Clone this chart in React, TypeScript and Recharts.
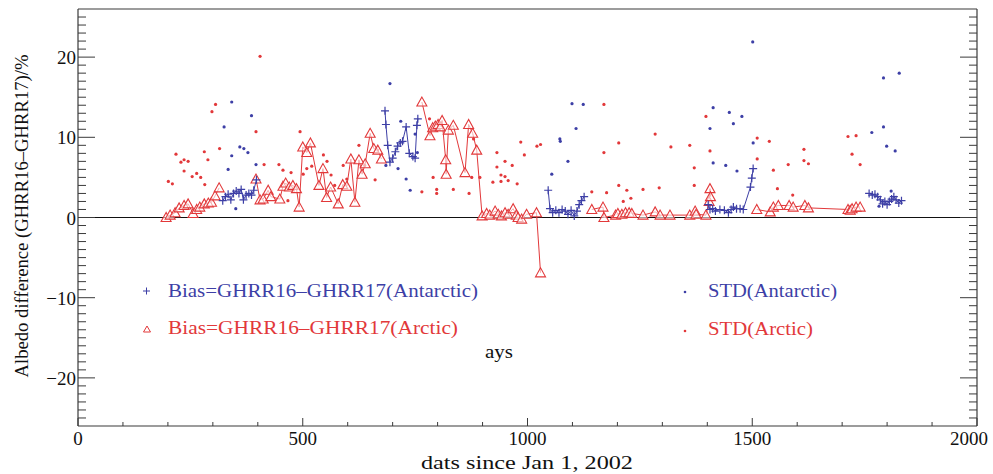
import React from "react";
import {
  ScatterChart,
  Scatter,
  XAxis,
  YAxis,
  ReferenceLine,
} from "recharts";

const BLUE = "#3d3fa6";
const RED = "#e2383a";
const AXIS = "#3a3a3a";
const FONT = "Liberation Serif";

// [day, value] pairs
const antarcticBiasA = [
  [322, 2.1], [328, 2.6], [334, 2.9], [340, 2.2], [346, 3.0], [352, 3.3], [358, 3.0],
  [363, 3.5], [368, 2.2], [374, 2.8], [380, 3.0], [386, 2.8], [391, 3.4], [397, 4.7],
];
const antarcticBiasB = [
  [683, 13.3], [685, 11.6], [689, 9.0], [694, 6.9], [700, 7.4], [706, 8.2], [711, 8.9],
  [717, 9.3], [722, 9.5], [730, 11.3], [737, 8.0], [745, 7.6], [750, 7.4], [754, 11.5], [756, 12.3],
];
const antarcticBiasC = [
  [1046, 3.4], [1050, 1.1], [1056, 0.6], [1063, 0.9], [1070, 0.6], [1077, 1.0], [1084, 0.8],
  [1090, 0.4], [1097, 0.9], [1104, 0.2], [1110, 0.8], [1115, 1.6], [1120, 2.1], [1126, 2.6],
];
const antarcticBiasD = [
  [1402, 1.6], [1406, 1.0], [1412, 1.1], [1418, 0.8], [1428, 1.0], [1438, 0.9], [1447, 0.6],
  [1453, 1.0], [1458, 1.3], [1465, 1.1], [1473, 1.1], [1480, 1.0], [1496, 3.8], [1499, 4.9], [1502, 6.1],
];
const antarcticBiasE = [
  [1760, 3.0], [1767, 2.8], [1773, 2.9], [1779, 2.6], [1785, 2.2], [1790, 1.7], [1795, 2.0],
  [1800, 1.6], [1805, 2.0], [1810, 2.3], [1815, 2.6], [1820, 2.2], [1826, 1.8], [1832, 2.1],
];

const arcticBiasA = [
  [196, 0.0], [205, 0.3], [216, 0.6], [225, 1.2], [236, 1.5], [245, 1.7], [256, 0.5],
  [264, 1.0], [271, 1.3], [281, 1.7], [290, 1.8], [297, 1.9], [305, 2.7], [314, 3.7],
];
const arcticBiasB = [
  [396, 4.8], [405, 2.2], [412, 2.3], [423, 3.4], [429, 2.6], [449, 2.3], [456, 3.9],
  [462, 4.3], [470, 3.8], [478, 4.0], [486, 3.6], [492, 1.3], [500, 8.8], [509, 8.1],
  [517, 9.3], [536, 4.0], [545, 6.1], [553, 2.5], [562, 3.8], [579, 1.7], [589, 4.1],
  [598, 3.9], [607, 7.3], [616, 1.9], [625, 7.2], [632, 5.4], [639, 6.7], [650, 10.5],
  [658, 8.6], [667, 8.4], [675, 7.3],
];
const arcticBiasC = [
  [765, 14.4], [783, 10.2], [789, 11.2], [795, 11.4], [801, 11.6], [806, 11.3], [810, 12.1],
  [818, 7.2], [819, 5.4], [824, 10.9], [835, 11.5], [861, 5.6], [869, 11.6], [878, 10.5],
  [887, 8.4], [899, 0.2], [909, 0.5], [916, 0.3], [928, 0.8], [935, 0.4], [942, 0.2],
  [950, 0.6], [957, 0.4], [968, 1.1], [975, 0.3], [979, 0.0], [987, -0.2], [998, 0.4],
  [1020, 0.6], [1029, -6.9],
];
const arcticBiasD = [
  [1143, 1.0], [1168, 1.3], [1170, 0.0], [1196, 0.3], [1201, 0.5], [1210, 0.4], [1218, 0.6],
  [1226, 0.6], [1232, 0.5], [1257, 0.3], [1284, 0.7], [1295, 0.3], [1317, 0.3], [1361, 0.3],
  [1373, 0.8], [1375, 0.4], [1397, 0.3], [1404, 2.0], [1406, 3.6], [1407, 2.6],
];
const arcticBiasE = [
  [1510, 1.0], [1540, 0.7], [1547, 1.3], [1558, 1.5], [1582, 1.5], [1591, 1.3], [1617, 1.5],
  [1625, 1.2], [1713, 1.0], [1718, 0.9], [1722, 1.1], [1731, 1.3], [1740, 1.3],
];

const antarcticStd = [
  [325, 11.3], [334, 6.0], [342, 14.4], [342, 7.7], [351, 1.1], [360, 8.8], [369, 8.6],
  [378, 8.1], [386, 12.7], [396, 6.6],
  [685, 6.5], [694, 16.7], [712, 6.1], [718, 12.0], [730, 4.8], [739, 3.4], [750, 10.4], [755, 8.1],
  [1054, 5.4], [1072, 9.8], [1073, 9.5], [1090, 7.0], [1099, 14.2], [1108, 11.1], [1124, 14.1],
  [1406, 11.1], [1413, 13.7], [1413, 6.8], [1441, 6.5], [1449, 13.1], [1458, 11.7], [1466, 5.8],
  [1477, 12.6], [1501, 21.9], [1502, 9.3],
  [1766, 10.6], [1782, 1.4], [1792, 17.4], [1792, 11.3], [1799, 8.9], [1809, 3.3], [1818, 8.3], [1827, 18.0],
];

const arcticStd = [
  [201, 4.5], [210, 4.2], [218, 7.9], [229, 6.9], [236, 7.2], [236, 5.8], [245, 7.0],
  [254, 5.1], [264, 5.5], [273, 5.0], [281, 8.2], [282, 4.1], [289, 7.2], [298, 13.2],
  [306, 14.1], [315, 8.6],
  [396, 10.7], [405, 20.1], [414, 6.6], [447, 6.6], [456, 5.9], [467, 2.1], [474, 5.6],
  [494, 10.7], [501, 5.4], [509, 6.1], [520, 6.4], [546, 7.8], [554, 7.0], [563, 5.3],
  [571, 4.0], [590, 6.5], [598, 4.8], [625, 9.0], [638, 6.5], [661, 4.7], [666, 8.4],
  [765, 3.2], [782, 12.3], [790, 5.0], [798, 3.5], [798, 3.0], [835, 3.5], [870, 3.0],
  [876, 5.0], [880, 9.8], [894, 5.0], [923, 4.4], [932, 8.1], [932, 6.3], [941, 5.3],
  [941, 4.5], [950, 7.0], [950, 5.1], [957, 4.6], [966, 6.5], [977, 4.2], [985, 9.4],
  [993, 7.8], [1021, 8.9], [1029, 9.1],
  [1143, 3.2], [1170, 14.1], [1170, 8.1], [1176, 3.1], [1203, 9.3], [1203, 4.0], [1213, 2.0],
  [1221, 3.4], [1230, 2.4], [1257, 3.5], [1284, 10.4], [1293, 3.7], [1319, 8.8], [1361, 9.0],
  [1371, 6.2], [1371, 4.0], [1397, 12.6], [1406, 8.3],
  [1511, 9.9], [1511, 7.3], [1538, 9.5], [1547, 5.9], [1556, 3.6], [1580, 6.6], [1590, 2.8],
  [1615, 8.5], [1615, 7.1], [1625, 6.7], [1713, 10.1], [1722, 7.9], [1731, 10.2], [1740, 6.6],
];

const xTicks = Array.from({ length: 21 }, (_, i) => i * 100);
const yTicks = Array.from({ length: 51 }, (_, i) => i - 25);

const toPts = (arr: number[][]) => arr.map(([day, val]) => ({ day, val }));

const Plus = (p: any) => (
  <path d={`M${p.cx - 4},${p.cy}h8M${p.cx},${p.cy - 4}v8`} stroke={BLUE} strokeWidth={1.2} />
);
const Tri = (p: any) => (
  <path d={`M${p.cx},${p.cy - 5}L${p.cx - 5},${p.cy + 4}L${p.cx + 5},${p.cy + 4}Z`} stroke={RED} strokeWidth={1.1} fill="white" fillOpacity={0.6} />
);
const BlueDot = (p: any) => <circle cx={p.cx} cy={p.cy} r={1.6} fill={BLUE} />;
const RedDot = (p: any) => <circle cx={p.cx} cy={p.cy} r={1.6} fill={RED} />;

const txt = { fontFamily: FONT, fontSize: 19, fill: "#111" };

const BottomTick = (p: any) => {
  const v = p.payload.value;
  const major = v % 500 === 0;
  return (
    <g>
      <line x1={p.x} x2={p.x} y1={p.y} y2={p.y - (major ? 8 : 4)} stroke={AXIS} />
      {major && (
        <text x={v === 2000 ? p.x - 8 : p.x} y={p.y + 19} textAnchor="middle" {...txt}>{v}</text>
      )}
    </g>
  );
};
const TopTick = (p: any) => {
  const major = p.payload.value % 500 === 0;
  return <line x1={p.x} x2={p.x} y1={p.y} y2={p.y + (major ? 8 : 4)} stroke={AXIS} />;
};
const LeftTick = (p: any) => {
  const v = p.payload.value;
  const major = v % 10 === 0;
  return (
    <g>
      <line x1={p.x} x2={p.x + (major ? 17 : 8)} y1={p.y} y2={p.y} stroke={AXIS} />
      {major && (
        <text x={p.x - 2} y={p.y + 7} textAnchor="end" {...txt}>
          {v < 0 ? `\u2212${-v}` : v}
        </text>
      )}
    </g>
  );
};
const RightTick = (p: any) => {
  const major = p.payload.value % 10 === 0;
  return <line x1={p.x} x2={p.x - (major ? 17 : 8)} y1={p.y} y2={p.y} stroke={AXIS} />;
};

const biasSeries = [
  { data: arcticBiasA, color: RED, shape: Tri },
  { data: arcticBiasB, color: RED, shape: Tri },
  { data: arcticBiasC, color: RED, shape: Tri },
  { data: arcticBiasD, color: RED, shape: Tri },
  { data: arcticBiasE, color: RED, shape: Tri },
  { data: antarcticBiasA, color: BLUE, shape: Plus },
  { data: antarcticBiasB, color: BLUE, shape: Plus },
  { data: antarcticBiasC, color: BLUE, shape: Plus },
  { data: antarcticBiasD, color: BLUE, shape: Plus },
  { data: antarcticBiasE, color: BLUE, shape: Plus },
];

export default function App() {
  return (
    <div style={{ position: "absolute", left: 0, top: 0, width: 993, height: 474, background: "#fff" }}>
      <ScatterChart width={993} height={474} margin={{ top: 0, right: 0, bottom: 0, left: 0 }}>
        <XAxis xAxisId="b" dataKey="day" type="number" domain={[0, 2000]} ticks={xTicks} interval={0}
          height={48} tickSize={0} tickMargin={0} tickLine={false} tick={BottomTick}
          axisLine={{ stroke: AXIS, strokeWidth: 1.2 }} allowDataOverflow />
        <XAxis xAxisId="t" orientation="top" type="number" domain={[0, 2000]} ticks={xTicks} interval={0}
          height={9} tickSize={0} tickMargin={0} tickLine={false} tick={TopTick}
          axisLine={{ stroke: AXIS, strokeWidth: 1.2 }} allowDataOverflow />
        <YAxis yAxisId="l" dataKey="val" type="number" domain={[-26, 26]} ticks={yTicks} interval={0}
          width={78} tickSize={0} tickMargin={0} tickLine={false} tick={LeftTick}
          axisLine={{ stroke: AXIS, strokeWidth: 1.2 }} allowDataOverflow />
        <YAxis yAxisId="r" orientation="right" type="number" domain={[-26, 26]} ticks={yTicks} interval={0}
          width={16} tickSize={0} tickMargin={0} tickLine={false} tick={RightTick}
          axisLine={{ stroke: AXIS, strokeWidth: 1.2 }} allowDataOverflow />
        <ReferenceLine xAxisId="b" yAxisId="l" y={0} stroke="#111" strokeWidth={1.2} />
        <Scatter xAxisId="b" yAxisId="l" data={toPts(arcticStd)} shape={RedDot} isAnimationActive={false} />
        <Scatter xAxisId="b" yAxisId="l" data={toPts(antarcticStd)} shape={BlueDot} isAnimationActive={false} />
        {biasSeries.map((s, i) => (
          <Scatter key={i} xAxisId="b" yAxisId="l" data={toPts(s.data)} shape={s.shape}
            line={{ stroke: s.color, strokeWidth: 1 }} lineType="joint" isAnimationActive={false} />
        ))}
      </ScatterChart>
      <svg width={993} height={474} style={{ position: "absolute", left: 0, top: 0, pointerEvents: "none" }}>
        <text transform="translate(28,216) rotate(-90)" textAnchor="middle" textLength={323}
          lengthAdjust="spacingAndGlyphs" {...txt}>
          Albedo difference (GHRR16–GHRR17)/%
        </text>
        <text x={527} y={469} textAnchor="middle" textLength={212} lengthAdjust="spacingAndGlyphs" {...txt}>
          dats since Jan 1, 2002
        </text>
        <text x={485} y={358} textLength={28} lengthAdjust="spacingAndGlyphs" {...txt}>ays</text>

        <path d="M143,291h7M146.5,287.5v7" stroke={BLUE} strokeWidth={1} />
        <text x={168} y={297} textLength={310} lengthAdjust="spacingAndGlyphs" {...txt} fill={BLUE}>
          Bias=GHRR16–GHRR17(Antarctic)
        </text>
        <path d="M147,326L143.5,332L150.5,332Z" stroke={RED} strokeWidth={1} fill="none" />
        <text x={168} y={334} textLength={290} lengthAdjust="spacingAndGlyphs" {...txt} fill={RED}>
          Bias=GHRR16–GHRR17(Arctic)
        </text>

        <circle cx={685} cy={292} r={1.3} fill={BLUE} />
        <text x={708} y={297} textLength={129} lengthAdjust="spacingAndGlyphs" {...txt} fill={BLUE}>
          STD(Antarctic)
        </text>
        <circle cx={685} cy={331} r={1.3} fill={RED} />
        <text x={708} y={335} textLength={105} lengthAdjust="spacingAndGlyphs" {...txt} fill={RED}>
          STD(Arctic)
        </text>
      </svg>
    </div>
  );
}
